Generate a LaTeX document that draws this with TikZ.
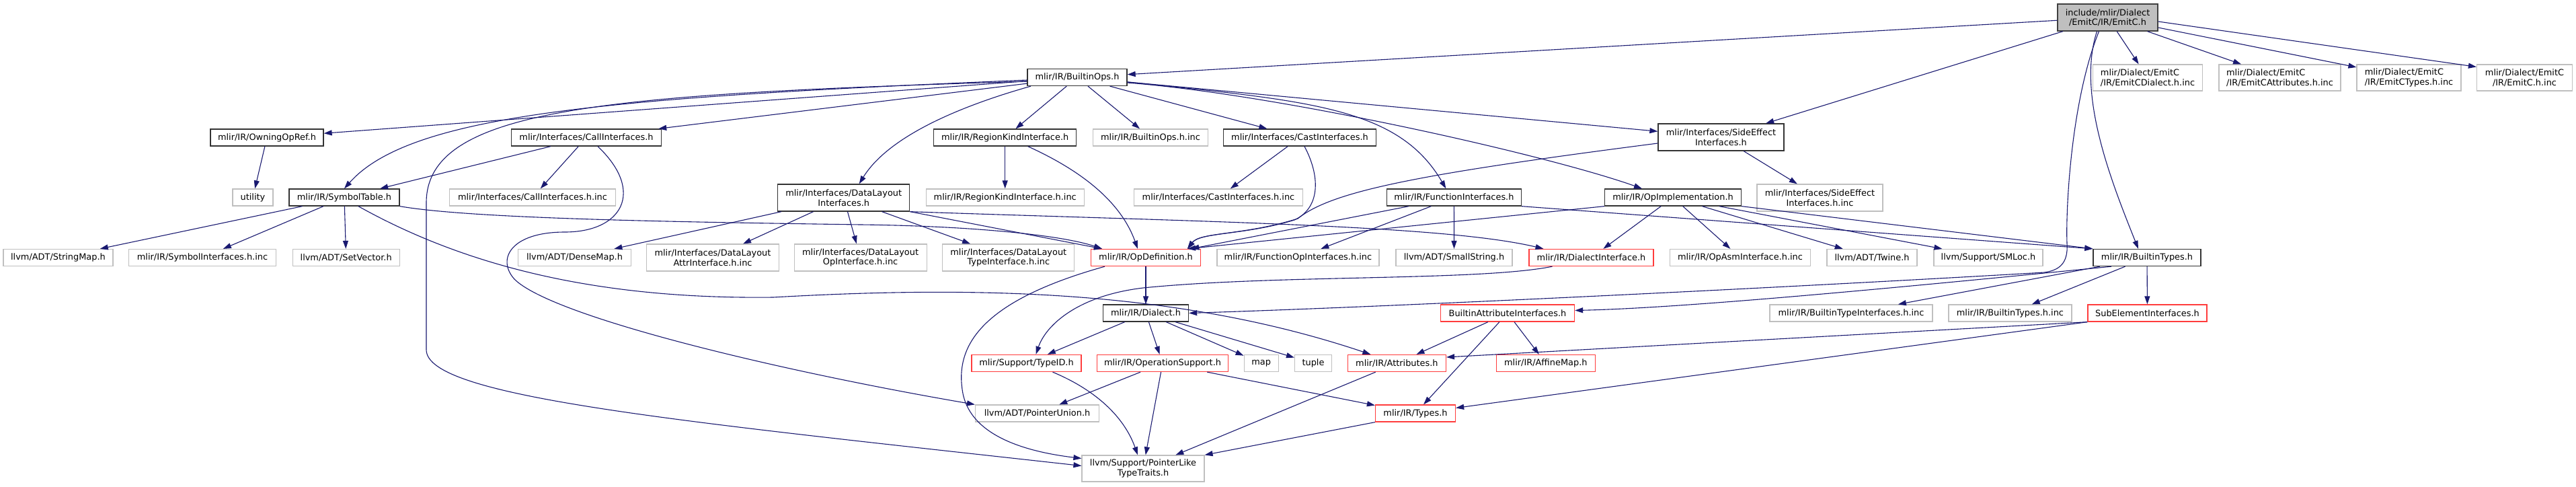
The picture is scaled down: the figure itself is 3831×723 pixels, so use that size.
\documentclass[tikz,border=0pt]{standalone}
\usepackage{fontspec}
\setmainfont{DejaVu Sans}
\usepackage{tikz}
\usetikzlibrary{arrows.meta}

\definecolor{edgeblue}{HTML}{191970}
\definecolor{leafgray}{HTML}{BFBFBF}
\definecolor{cutred}{HTML}{FF3C3C}

\begin{document}
\begin{tikzpicture}[x=1pt, y=-1pt,
    filebox/.style={rectangle, inner sep=0pt, minimum height=25pt, align=center, fill=white,
        font=\fontsize{12.9pt}{14.5pt}\selectfont},
    incfile/.style={filebox, draw=black!80, line width=1.3pt},
    sysfile/.style={filebox, draw=leafgray, line width=1.2pt},
    cutfile/.style={filebox, draw=cutred, line width=1.3pt},
    mainfile/.style={filebox, draw=black!75, fill=leafgray, line width=1.3pt},
    dep/.style={draw=edgeblue, line width=1.1pt, -{Triangle[length=12pt, width=8pt]}}
]
    \useasboundingbox (0,0) rectangle (3831,723);

    % EmitC.h and what it pulls in directly
    \node[mainfile, minimum width=149pt, minimum height=40pt] (root) at (3134.5,26) {include/mlir/Dialect\\/EmitC/IR/EmitC.h};
    \node[incfile, minimum width=148pt] (ops) at (1602,115) {mlir/IR/BuiltinOps.h};
    \node[sysfile, minimum width=163pt, minimum height=39pt, align=left] (edial) at (3194,115.5) {mlir/Dialect/EmitC\\/IR/EmitCDialect.h.inc};
    \node[sysfile, minimum width=181pt, minimum height=39pt, align=left] (eattr) at (3390.5,115.5) {mlir/Dialect/EmitC\\/IR/EmitCAttributes.h.inc};
    \node[sysfile, minimum width=155pt, minimum height=39pt, align=left] (etypes) at (3582.5,115.5) {mlir/Dialect/EmitC\\/IR/EmitCTypes.h.inc};
    \node[sysfile, minimum width=142pt, minimum height=39pt] (einc) at (3754.5,115.5) {mlir/Dialect/EmitC\\/IR/EmitC.h.inc};

    % second level
    \node[incfile, minimum width=168pt] (owning) at (397,204.5) {mlir/IR/OwningOpRef.h};
    \node[incfile, minimum width=223pt] (call) at (872,204.5) {mlir/Interfaces/CallInterfaces.h};
    \node[incfile, minimum width=212pt] (region) at (1494.7,204.5) {mlir/IR/RegionKindInterface.h};
    \node[sysfile, minimum width=171pt] (opsinc) at (1711,204.5) {mlir/IR/BuiltinOps.h.inc};
    \node[incfile, minimum width=227pt] (cast) at (1933,204.5) {mlir/Interfaces/CastInterfaces.h};
    \node[incfile, minimum width=187pt, minimum height=40pt] (side) at (2559.5,204) {mlir/Interfaces/SideEffect\\Interfaces.h};

    % third level
    \node[sysfile, minimum width=60pt] (utility) at (376,293.5) {utility};
    \node[incfile, minimum width=164pt] (symtab) at (512,293.5) {mlir/IR/SymbolTable.h};
    \node[sysfile, minimum width=247pt] (callinc) at (792,293.5) {mlir/Interfaces/CallInterfaces.h.inc};
    \node[incfile, minimum width=196pt, minimum height=40pt] (dlayout) at (1254.7,294) {mlir/Interfaces/DataLayout\\Interfaces.h};
    \node[sysfile, minimum width=235pt] (regioninc) at (1494.7,293.5) {mlir/IR/RegionKindInterface.h.inc};
    \node[sysfile, minimum width=251pt] (castinc) at (1812,293.5) {mlir/Interfaces/CastInterfaces.h.inc};
    \node[incfile, minimum width=200pt] (func) at (2162.4,293.5) {mlir/IR/FunctionInterfaces.h};
    \node[incfile, minimum width=203pt] (opimpl) at (2488,293.5) {mlir/IR/OpImplementation.h};
    \node[sysfile, minimum width=187pt, minimum height=40pt] (sideinc) at (2706.5,294) {mlir/Interfaces/SideEffect\\Interfaces.h.inc};

    % fourth level
    \node[sysfile, minimum width=163pt] (strmap) at (86.5,383) {llvm/ADT/StringMap.h};
    \node[sysfile, minimum width=219pt] (syminc) at (301,383) {mlir/IR/SymbolInterfaces.h.inc};
    \node[sysfile, minimum width=159pt] (setvec) at (514.7,383) {llvm/ADT/SetVector.h};
    \node[sysfile, minimum width=168pt] (densemap) at (854.5,383) {llvm/ADT/DenseMap.h};
    \node[sysfile, minimum width=197pt, minimum height=40pt] (dlattr) at (1060,383) {mlir/Interfaces/DataLayout\\AttrInterface.h.inc};
    \node[sysfile, minimum width=197pt, minimum height=40pt] (dlop) at (1279.6,383) {mlir/Interfaces/DataLayout\\OpInterface.h.inc};
    \node[sysfile, minimum width=196pt, minimum height=40pt] (dltype) at (1499.8,383) {mlir/Interfaces/DataLayout\\TypeInterface.h.inc};
    \node[cutfile, minimum width=163pt] (opdef) at (1704,383) {mlir/IR/OpDefinition.h};
    \node[sysfile, minimum width=241pt] (funcinc) at (1930.4,383) {mlir/IR/FunctionOpInterfaces.h.inc};
    \node[sysfile, minimum width=173pt] (smallstr) at (2162.5,383) {llvm/ADT/SmallString.h};
    \node[cutfile, minimum width=185pt] (dialint) at (2366.5,383) {mlir/IR/DialectInterface.h};
    \node[sysfile, minimum width=209pt] (asminc) at (2588,383) {mlir/IR/OpAsmInterface.h.inc};
    \node[sysfile, minimum width=134pt] (twine) at (2784,383) {llvm/ADT/Twine.h};
    \node[sysfile, minimum width=162pt] (smloc) at (2957,383) {llvm/Support/SMLoc.h};
    \node[incfile, minimum width=160pt] (btypes) at (3193,383) {mlir/IR/BuiltinTypes.h};

    % fifth level
    \node[incfile, minimum width=127pt] (dialect) at (1704,465.5) {mlir/IR/Dialect.h};
    \node[cutfile, minimum width=199pt] (battrint) at (2242,465.5) {BuiltinAttributeInterfaces.h};
    \node[sysfile, minimum width=242pt] (btinc) at (2753,465.5) {mlir/IR/BuiltinTypeInterfaces.h.inc};
    \node[sysfile, minimum width=183pt] (btypesinc) at (2989.4,465.5) {mlir/IR/BuiltinTypes.h.inc};
    \node[cutfile, minimum width=177pt] (subel) at (3193.5,465.5) {SubElementInterfaces.h};

    % bottom levels
    \node[cutfile, minimum width=163pt] (typeid) at (1526.5,540) {mlir/Support/TypeID.h};
    \node[cutfile, minimum width=195pt] (opsupport) at (1729,540) {mlir/IR/OperationSupport.h};
    \node[sysfile, minimum width=51pt] (map) at (1875.7,540) {map};
    \node[sysfile, minimum width=55pt] (tuple) at (1953,540) {tuple};
    \node[cutfile, minimum width=146pt] (attrs) at (2077.4,540) {mlir/IR/Attributes.h};
    \node[cutfile, minimum width=147pt] (affine) at (2298.8,540) {mlir/IR/AffineMap.h};
    \node[sysfile, minimum width=184pt] (punion) at (1542.5,614.5) {llvm/ADT/PointerUnion.h};
    \node[cutfile, minimum width=119pt] (types) at (2105,614.5) {mlir/IR/Types.h};
    \node[sysfile, minimum width=182pt, minimum height=39pt] (ptrlike) at (1700,696.5) {llvm/Support/PointerLike\\TypeTraits.h};

    % edges from EmitC.h
    \draw[dep] (root) -- (ops);
    \draw[dep] (root) -- (side);
    \draw[dep] ([xshift=-13pt]root.south) .. controls (3080,150) and (3072,310) .. (3074,362) .. controls (3076,392) and (3062,402) .. (3040,405) .. controls (2700,425) and (2100,455) .. (dialect.east);
    \draw[dep] ([xshift=-16pt]root.south) .. controls (3088,140) and (3140,270) .. ([xshift=-13pt]btypes.north);
    \draw[dep] (root) -- (edial);
    \draw[dep] (root) -- (eattr);
    \draw[dep] (root) -- (etypes);
    \draw[dep] ([yshift=-6pt]root.east) -- ([yshift=-4pt]einc.north west);

    % edges from BuiltinOps.h
    \draw[dep] (ops) -- (owning);
    \draw[dep] ([yshift=-4pt]ops.west) .. controls (900,145) and (610,170) .. (symtab.north);
    \draw[dep] (ops) -- (call);
    \draw[dep] ([xshift=-69pt]ops.south) .. controls (1420,160) and (1320,205) .. ([xshift=23pt]dlayout.north);
    \draw[dep] (ops) -- (region);
    \draw[dep] (ops) -- (opsinc);
    \draw[dep] (ops) -- (cast);
    \draw[dep] (ops) -- (side);
    \draw[dep] ([yshift=-7pt]ops.east) .. controls (1950,150) and (2080,160) .. ([xshift=-12pt]func.north);
    \draw[dep] ([yshift=-8pt]ops.east) .. controls (1900,140) and (2300,230) .. ([xshift=-46pt]opimpl.north);
    \draw[dep] ([yshift=-6pt]ops.west) .. controls (900,140) and (636,160) .. (634,300) -- (634,520) .. controls (634,590) and (1000,625) .. ([yshift=4pt]ptrlike.west);

    % second level edges
    \draw[dep] (owning) -- (utility);
    \draw[dep] (call) -- (symtab);
    \draw[dep] (call) -- (callinc);
    \draw[dep] ([xshift=17pt]call.south) .. controls (960,285) and (925,345) .. (840,345) .. controls (760,345) and (738,385) .. (765,415) .. controls (820,470) and (1150,550) .. (punion.north west);
    \draw[dep] (region) -- (regioninc);
    \draw[dep] ([xshift=34pt]region.south) .. controls (1600,250) and (1665,295) .. ([xshift=-12pt]opdef.north);
    \draw[dep] (cast) -- (castinc);
    \draw[dep] ([xshift=7pt]cast.south) .. controls (1965,265) and (1962,310) .. (1925,327) .. controls (1850,350) and (1785,345) .. ([xshift=62pt]opdef.north);
    \draw[dep] (side) -- (sideinc);
    \draw[dep] ([yshift=-9pt]side.west) .. controls (2100,260) and (1980,285) .. (1930,325) .. controls (1850,350) and (1785,345) .. ([xshift=62pt]opdef.north);

    % third level edges
    \draw[dep] (symtab) -- (strmap);
    \draw[dep] (symtab) -- (syminc);
    \draw[dep] (symtab) -- (setvec);
    \draw[dep] ([xshift=21pt]symtab.south) .. controls (700,400) and (900,445) .. (1150,442) .. controls (1450,425) and (1750,430) .. ([xshift=-39pt]attrs.north);
    \draw[dep] (symtab.south east) .. controls (700,325) and (1000,330) .. (1280,334) .. controls (1450,336) and (1580,350) .. ([xshift=-65pt]opdef.north);
    \draw[dep] (dlayout) -- (densemap);
    \draw[dep] (dlayout) -- (dlattr);
    \draw[dep] (dlayout) -- (dlop);
    \draw[dep] (dlayout) -- (dltype);
    \draw[dep] (dlayout.south east) -- ([xshift=-65pt]opdef.north);
    \draw[dep] (dlayout.south east) .. controls (1800,330) and (2150,335) .. ([xshift=-71pt]dialint.north);
    \draw[dep] (func) -- (opdef);
    \draw[dep] (func) -- (funcinc);
    \draw[dep] (func) -- (smallstr);
    \draw[dep] (func.south east) -- (btypes.north west);
    \draw[dep] (opimpl.south west) -- ([xshift=62pt]opdef.north);
    \draw[dep] (opimpl) -- (dialint);
    \draw[dep] (opimpl) -- (asminc);
    \draw[dep] (opimpl) -- (twine);
    \draw[dep] (opimpl) -- (smloc);
    \draw[dep] (opimpl.south east) -- (btypes.north west);

    % fourth level edges
    \draw[dep] (opdef) -- (dialect);
    \draw[dep] ([xshift=-61pt]opdef.south) .. controls (1450,450) and (1420,520) .. (1432,585) .. controls (1445,650) and (1530,672) .. ([yshift=15pt]ptrlike.west);
    \draw[dep] ([xshift=-58pt]dialint.south) .. controls (2200,418) and (1900,408) .. (1700,428) .. controls (1600,440) and (1555,485) .. ([xshift=14pt]typeid.north);
    \draw[dep] ([xshift=-53pt]btypes.south) .. controls (2800,430) and (2500,458) .. ([yshift=4pt]battrint.east);
    \draw[dep] (btypes) -- (btinc);
    \draw[dep] (btypes) -- (btypesinc);
    \draw[dep] (btypes) -- (subel);

    % lower edges
    \draw[dep] (dialect) -- (typeid);
    \draw[dep] (dialect) -- (opsupport);
    \draw[dep] (dialect) -- (map);
    \draw[dep] (dialect) -- (tuple);
    \draw[dep] (battrint) -- (attrs);
    \draw[dep] (battrint) -- (affine);
    \draw[dep] (battrint) -- (types);
    \draw[dep] (subel.south west) -- ([yshift=9pt]attrs.east);
    \draw[dep] (subel.south west) -- ([yshift=8pt]types.east);
    \draw[dep] ([xshift=39pt]typeid.south) .. controls (1630,580) and (1672,620) .. ([xshift=-8pt]ptrlike.north);
    \draw[dep] (opsupport) -- (punion);
    \draw[dep] (opsupport) -- (ptrlike);
    \draw[dep] (opsupport) -- (types);
    \draw[dep] (attrs) -- (ptrlike);
    \draw[dep] (types.south west) -- (ptrlike.north east);
\end{tikzpicture}
\end{document}
